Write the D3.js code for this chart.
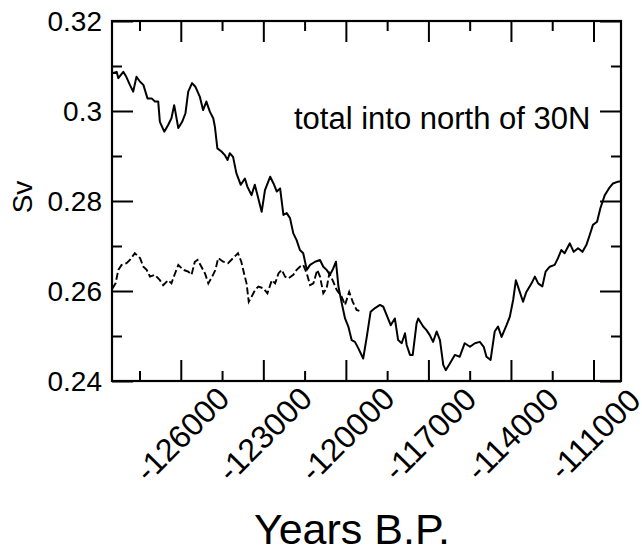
<!DOCTYPE html>
<html>
<head>
<meta charset="utf-8">
<script src="https://cdn.jsdelivr.net/npm/d3@7"></script>
<style>
    body { margin: 0; background: #fff; }
    text { font-family: "Liberation Sans", Arial, sans-serif; fill: #000; }
</style>
</head>
<body>
<div id="visualization"></div>
<script>
// solid line: total into north of 30N
var solidYears = [-128490,-128330,-128270,-128090,-127980,-127850,-127730,-127610,-127480,-127360,
    -127210,-127060,-126940,-126820,-126760,-126600,-126460,-126340,-126240,-126090,
    -125950,-125830,-125730,-125590,-125470,-125310,-125190,-125070,-124940,-124820,
    -124760,-124670,-124520,-124400,-124300,-124220,-124100,-123980,-123820,-123670,
    -123580,-123430,-123310,-123230,-123060,-122940,-122750,-122630,-122510,-122390,
    -122270,-122150,-122030,-121910,-121790,-121670,-121550,-121420,-121300,-121120,
    -120940,-120820,-120700,-120580,-120480,-120360,-120270,-120150,-120030,-119910,
    -119790,-119670,-119550,-119370,-119240,-119100,-118940,-118760,-118640,-118520,
    -118370,-118220,-118100,-117970,-117850,-117790,-117670,-117570,-117430,-117370,
    -117190,-117070,-116950,-116830,-116700,-116580,-116460,-116370,-116220,-116040,
    -115860,-115680,-115490,-115310,-115130,-114990,-114890,-114740,-114590,-114470,
    -114340,-114160,-114040,-113920,-113820,-113680,-113560,-113440,-113250,-113130,
    -113010,-112860,-112740,-112590,-112410,-112290,-112170,-112050,-111860,-111720,
    -111560,-111400,-111260,-111140,-111020,-110870,-110750,-110590,-110440,-110290,
    -110110,-110000];
var solidSv = [0.3084,0.3087,0.3073,0.3087,0.3076,0.3058,0.3043,0.3076,0.3065,0.3058,
    0.3028,0.3028,0.3021,0.3021,0.2976,0.2954,0.2969,0.2984,0.3013,0.2962,
    0.2976,0.2995,0.3043,0.3062,0.3054,0.3032,0.3002,0.3021,0.2998,0.2984,
    0.2965,0.2917,0.2910,0.2902,0.2891,0.2906,0.2898,0.2862,0.2836,0.2850,
    0.2832,0.2813,0.2836,0.2817,0.2776,0.2824,0.2854,0.2839,0.2821,0.2828,
    0.2769,0.2773,0.2762,0.2728,0.2713,0.2691,0.2684,0.2647,0.2658,0.2665,
    0.2669,0.2654,0.2647,0.2636,0.2647,0.2665,0.2610,0.2573,0.2539,0.2521,
    0.2491,0.2487,0.2473,0.2450,0.2498,0.2554,0.2562,0.2569,0.2565,0.2547,
    0.2524,0.2539,0.2491,0.2484,0.2506,0.2480,0.2458,0.2458,0.2528,0.2539,
    0.2521,0.2513,0.2502,0.2487,0.2510,0.2491,0.2436,0.2424,0.2439,0.2458,
    0.2454,0.2484,0.2476,0.2484,0.2487,0.2476,0.2454,0.2447,0.2510,0.2521,
    0.2498,0.2524,0.2543,0.2580,0.2624,0.2598,0.2576,0.2598,0.2617,0.2632,
    0.2617,0.2610,0.2643,0.2654,0.2658,0.2673,0.2691,0.2684,0.2706,0.2687,
    0.2695,0.2687,0.2702,0.2724,0.2747,0.2754,0.2784,0.2813,0.2828,0.2839,
    0.2843,0.2844];

// dashed line
var dashYears = [-128490,-128370,-128270,-128150,-127970,-127850,-127670,-127480,-127360,-127240,
    -127120,-126940,-126760,-126640,-126460,-126340,-126210,-126090,-125910,-125730,
    -125610,-125490,-125390,-125250,-125120,-125000,-124860,-124740,-124640,-124460,
    -124280,-124100,-123920,-123800,-123700,-123610,-123530,-123430,-123300,-123180,
    -123000,-122850,-122690,-122570,-122450,-122330,-122210,-122090,-121910,-121790,
    -121670,-121550,-121420,-121300,-121180,-121040,-120940,-120820,-120700,-120600,
    -120460,-120330,-120150,-120030,-119880,-119750,-119610,-119510];
var dashSv = [0.2605,0.2617,0.2647,0.2658,0.2662,0.2669,0.2684,0.2673,0.2654,0.2647,
    0.2632,0.2636,0.2624,0.2613,0.2624,0.2617,0.2639,0.2658,0.2647,0.2643,
    0.2636,0.2665,0.2669,0.2654,0.2639,0.2617,0.2632,0.2647,0.2673,0.2665,
    0.2662,0.2673,0.2684,0.2665,0.2639,0.2617,0.2576,0.2587,0.2602,0.2610,
    0.2606,0.2595,0.2624,0.2617,0.2639,0.2647,0.2632,0.2628,0.2636,0.2647,
    0.2654,0.2658,0.2639,0.2613,0.2617,0.2647,0.2632,0.2595,0.2606,0.2639,
    0.2621,0.2602,0.2587,0.2569,0.2598,0.2576,0.2558,0.2556];

// ticks
var xMajorTicks = [-126000, -123000, -120000, -117000, -114000, -111000];
var xMinorTicks = [-127500, -124500, -121500, -118500, -115500, -112500];
var yMajorTicks = [0.24, 0.26, 0.28, 0.30, 0.32];
var yMinorTicks = [0.25, 0.27, 0.29, 0.31];

(function () {
    var w = 642, h = 551;
    var svg = d3.select('#visualization').append("svg")
        .attr("width", w)
        .attr("height", h);

    var plotLeft = 112, plotRight = 621, plotTop = 21, plotBottom = 381;

    var x = d3.scaleLinear().domain([-128500, -110000]).range([plotLeft, plotRight]);
    var y = d3.scaleLinear().domain([0.24, 0.32]).range([plotBottom, plotTop]);

    var majorLen = 21, minorLen = 10;

    function tickAxis(axisFn, scale, values, len, tx, ty) {
        svg.append("g")
            .attr("transform", "translate(" + tx + "," + ty + ")")
            .call(axisFn(scale).tickValues(values).tickSize(-len).tickFormat(""))
            .call(function (g) {
                g.select(".domain").remove();
                g.selectAll("line").attr("stroke", "#000").attr("stroke-width", 2);
            });
    }

    // inward ticks on all four sides
    tickAxis(d3.axisBottom, x, xMajorTicks, majorLen, 0, plotBottom);
    tickAxis(d3.axisBottom, x, xMinorTicks, minorLen, 0, plotBottom);
    tickAxis(d3.axisTop, x, xMajorTicks, majorLen, 0, plotTop);
    tickAxis(d3.axisTop, x, xMinorTicks, minorLen, 0, plotTop);
    tickAxis(d3.axisLeft, y, yMajorTicks, majorLen, plotLeft, 0);
    tickAxis(d3.axisLeft, y, yMinorTicks, minorLen, plotLeft, 0);
    tickAxis(d3.axisRight, y, yMajorTicks, majorLen, plotRight, 0);
    tickAxis(d3.axisRight, y, yMinorTicks, minorLen, plotRight, 0);

    // data lines
    var line = d3.line()
        .x(function (d) { return x(d[0]); })
        .y(function (d) { return y(d[1]); });

    svg.append("path")
        .datum(dashYears.map(function (t, i) { return [t, dashSv[i]]; }))
        .attr("d", line)
        .attr("fill", "none")
        .attr("stroke", "#000")
        .attr("stroke-width", 1.9)
        .attr("stroke-dasharray", "7,3");

    svg.append("path")
        .datum(solidYears.map(function (t, i) { return [t, solidSv[i]]; }))
        .attr("d", line)
        .attr("fill", "none")
        .attr("stroke", "#000")
        .attr("stroke-width", 2)
        .attr("stroke-linejoin", "round");

    // frame
    svg.append("rect")
        .attr("x", plotLeft).attr("y", plotTop)
        .attr("width", plotRight - plotLeft).attr("height", plotBottom - plotTop)
        .attr("fill", "none")
        .attr("stroke", "#000")
        .attr("stroke-width", 2.2);

    // y tick labels
    svg.append("g").selectAll("text")
        .data(yMajorTicks)
        .join("text")
        .attr("x", 102)
        .attr("y", function (d) { return y(d); })
        .attr("dy", "0.36em")
        .style("font-size", "28px")
        .style("text-anchor", "end")
        .text(function (d) { return String(+d.toFixed(2)); });

    // x tick labels, rotated
    svg.append("g").selectAll("text")
        .data(xMajorTicks)
        .join("text")
        .attr("transform", function (d) { return "translate(" + (x(d) + 1) + ",434) rotate(-45)"; })
        .attr("dy", "0.36em")
        .style("font-size", "32px")
        .style("text-anchor", "middle")
        .text(function (d) { return d; });

    // axis titles
    svg.append("text")
        .attr("transform", "translate(22,197) rotate(-90)")
        .attr("dy", "0.36em")
        .style("font-size", "28px")
        .style("text-anchor", "middle")
        .text("Sv");

    svg.append("text")
        .attr("x", 352)
        .attr("y", 544)
        .style("font-size", "43px")
        .style("text-anchor", "middle")
        .text("Years B.P.");

    svg.append("text")
        .attr("x", 294)
        .attr("y", 129)
        .style("font-size", "31px")
        .text("total into north of 30N");
})();
</script>
</body>
</html>
